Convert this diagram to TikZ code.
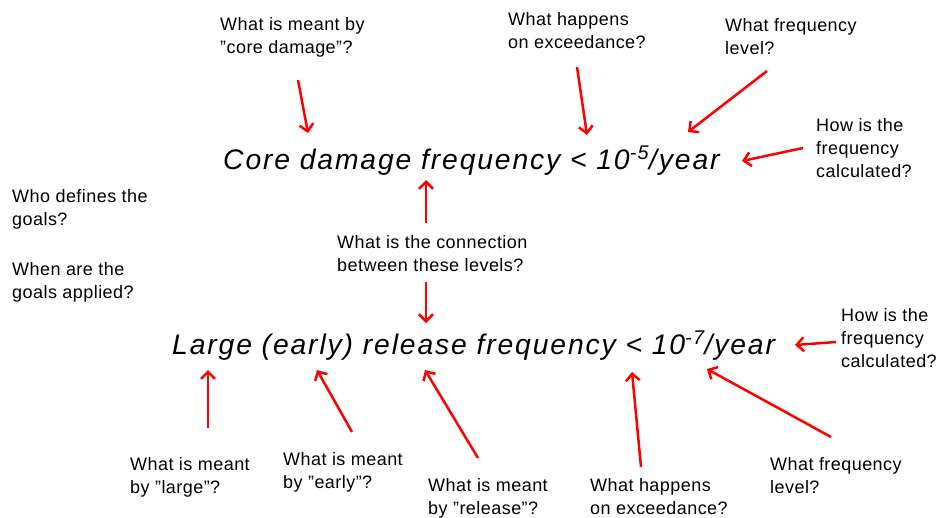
\documentclass[tikz,border=0pt]{standalone}
\usepackage{fontspec}
\setmainfont{Liberation Sans}
\newfontfamily\bigfont[LetterSpace=6.6]{Liberation Sans}
\newfontfamily\smallfont[LetterSpace=2.5]{Liberation Sans}
\usetikzlibrary{arrows.meta}
\tikzset{
  q/.style={anchor=north west, inner sep=0pt, align=left, font=\smallfont\fontsize{18}{23}\selectfont},
  big/.style={anchor=base west, inner sep=0pt, font=\bigfont\itshape\fontsize{28.3}{32}\selectfont},
  arr/.style={draw=red, line width=2.5pt, -{Straight Barb[length=7pt,width=14pt]}}
}
\begin{document}
\begin{tikzpicture}[x=1pt,y=-1pt]
\useasboundingbox (0,0) rectangle (937,517);
% main statements
\node[big] (cdf) at (223,169) {Core damage frequency < 10\textsuperscript{-5}/year};
\node[big] (lrf) at (172,354) {Large (early) release frequency < 10\textsuperscript{-7}/year};
% questions
\node[q] (q1) at (220,17) {What is meant by\\”core damage”?};
\node[q] (q2) at (508,12) {What happens\\on exceedance?};
\node[q] (q3) at (725,18) {What frequency\\level?};
\node[q] (q4) at (816,118) {How is the\\frequency\\calculated?};
\node[q] (q5) at (12,189) {Who defines the\\goals?};
\node[q] (q6) at (12,262) {When are the\\goals applied?};
\node[q] (q7) at (337,235) {What is the connection\\between these levels?};
\node[q] (q8) at (130,457) {What is meant\\by ”large”?};
\node[q] (q9) at (283,452) {What is meant\\by ”early”?};
\node[q] (q10) at (428,478) {What is meant\\by ”release”?};
\node[q] (q11) at (590,478) {What happens\\on exceedance?};
\node[q] (q12) at (770,457) {What frequency\\level?};
\node[q] (q13) at (841,308) {How is the\\frequency\\calculated?};
% arrow end points
\coordinate (t1) at (298,80);  \coordinate (h1) at (308,133);
\coordinate (t2) at (577,67);  \coordinate (h2) at (587,135);
\coordinate (t3) at (767,71);  \coordinate (h3) at (688,132);
\coordinate (t4) at (803,148); \coordinate (h4) at (742,161);
\coordinate (t5) at (426,223); \coordinate (h5) at (426,180);
\coordinate (t6) at (426,282); \coordinate (h6) at (426,323);
\coordinate (t7) at (208,428); \coordinate (h7) at (208,370);
\coordinate (t8) at (352,432); \coordinate (h8) at (317,370);
\coordinate (t9) at (478,458); \coordinate (h9) at (425,370);
\coordinate (t10) at (641,467); \coordinate (h10) at (632,372);
\coordinate (t11) at (831,437); \coordinate (h11) at (707,369);
\coordinate (t12) at (836,342); \coordinate (h12) at (795,345);
\foreach \i in {1,...,12} { \draw[arr] (t\i) -- (h\i); }
\end{tikzpicture}
\end{document}
